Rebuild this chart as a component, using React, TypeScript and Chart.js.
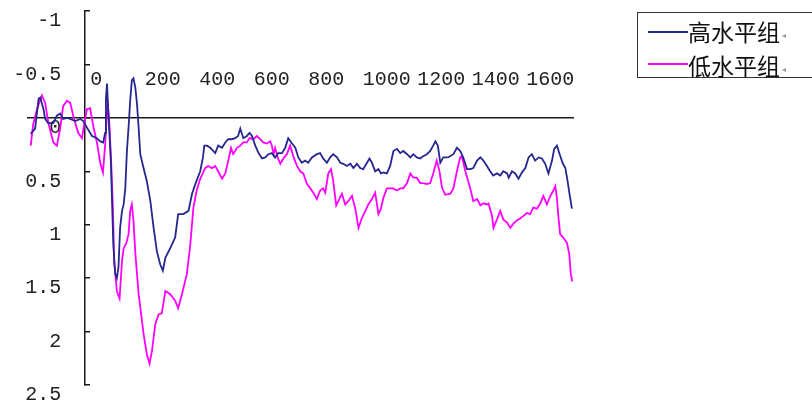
import React, { useEffect, useRef } from "react";
import { Chart, registerables } from "chart.js";

Chart.register(...registerables);

const seriesNames = ["高水平组", "低水平组"];

const highTimes = [
  -200, -184, -171, -165, -153, -147, -136, -117, -104, -92,
  -81, -67, -55, -37, -18, -7, 6, 25, 43, 55,
  66, 73, 76, 80, 84, 94, 103, 110, 116, 122,
  128, 135, 141, 147, 153, 159, 165, 171, 177, 184,
  190, 196, 202, 214, 226, 239, 251, 263, 275, 285,
  294, 312, 330, 341, 360, 379, 392, 404, 422, 432,
  437, 447, 459, 470, 477, 488, 502, 514, 525, 538,
  550, 561, 569, 580, 593, 603, 612, 624, 636, 649,
  661, 672, 685, 697, 708, 722, 734, 745, 759, 771,
  782, 795, 807, 818, 832, 850, 862, 873, 887, 899,
  910, 924, 936, 947, 960, 973, 984, 997, 1009, 1020,
  1034, 1043, 1052, 1064, 1076, 1085, 1094, 1107, 1119, 1131,
  1144, 1156, 1167, 1181, 1193, 1204, 1217, 1229, 1240, 1254,
  1266, 1277, 1285, 1294, 1303, 1314, 1332, 1351, 1364, 1376,
  1387, 1401, 1413, 1424, 1438, 1450, 1461, 1474, 1486, 1497,
  1511, 1523, 1534, 1548, 1554, 1566, 1578, 1590, 1603, 1615,
  1627, 1639, 1651, 1664, 1676, 1688, 1700, 1713, 1721, 1731,
  1741, 1753, 1762, 1770, 1777, 1786,
];

const highValues = [
  0.15, 0.1, -0.18, -0.19, -0.08, 0.01, 0.05, 0.05, -0.02, -0.04,
  0.01, 0.0, 0.01, 0.03, 0.01, 0.03, 0.09, 0.17, 0.19, 0.22,
  0.23, 0.14, -0.18, -0.32, -0.09, 0.4, 1.18, 1.46, 1.5, 1.4,
  1.03, 0.87, 0.81, 0.66, 0.31, 0.09, -0.16, -0.35, -0.37, -0.28,
  -0.13, 0.09, 0.34, 0.47, 0.59, 0.78, 1.03, 1.25, 1.37, 1.43,
  1.31, 1.22, 1.12, 0.9, 0.9, 0.87, 0.71, 0.62, 0.5, 0.37,
  0.26, 0.26, 0.28, 0.31, 0.33, 0.26, 0.28, 0.23, 0.2, 0.2,
  0.19, 0.17, 0.1, 0.19, 0.17, 0.14, 0.17, 0.26, 0.33, 0.38,
  0.37, 0.34, 0.33, 0.37, 0.33, 0.33, 0.28, 0.19, 0.24, 0.28,
  0.37, 0.42, 0.4, 0.42, 0.37, 0.34, 0.33, 0.38, 0.42, 0.37,
  0.34, 0.37, 0.42, 0.43, 0.45, 0.43, 0.47, 0.43, 0.47, 0.48,
  0.42, 0.38, 0.42, 0.5, 0.48, 0.52, 0.51, 0.52, 0.45, 0.31,
  0.29, 0.33, 0.31, 0.34, 0.37, 0.34, 0.37, 0.38, 0.36, 0.34,
  0.31, 0.26, 0.22, 0.26, 0.42, 0.37, 0.37, 0.34, 0.28, 0.31,
  0.37, 0.48, 0.48, 0.47, 0.4, 0.37, 0.4, 0.45, 0.5, 0.54,
  0.52, 0.54, 0.5, 0.52, 0.56, 0.5, 0.52, 0.57, 0.51, 0.47,
  0.37, 0.34, 0.4, 0.37, 0.38, 0.43, 0.52, 0.4, 0.29, 0.26,
  0.34, 0.43, 0.47, 0.59, 0.71, 0.85,
];

const lowTimes = [
  -200, -191, -177, -159, -147, -135, -117, -104, -92, -81,
  -67, -55, -44, -26, -12, -3, 6, 18, 29, 43,
  55, 65, 73, 80, 82, 88, 95, 102, 106, 116,
  126, 135, 141, 150, 159, 165, 171, 177, 184, 196,
  214, 226, 236, 245, 257, 269, 281, 294, 312, 330,
  341, 355, 373, 385, 397, 410, 422, 440, 451, 465,
  477, 488, 502, 514, 525, 535, 543, 557, 569, 580,
  593, 603, 617, 630, 642, 653, 667, 679, 685, 691,
  697, 706, 716, 727, 740, 752, 765, 777, 789, 800,
  814, 826, 837, 850, 862, 873, 881, 892, 902, 910,
  921, 929, 942, 954, 965, 979, 991, 1003, 1015, 1028,
  1039, 1052, 1064, 1076, 1085, 1094, 1107, 1119, 1130, 1144,
  1156, 1167, 1181, 1193, 1204, 1217, 1229, 1240, 1254, 1266,
  1277, 1290, 1300, 1309, 1321, 1340, 1351, 1364, 1376, 1382,
  1395, 1413, 1424, 1438, 1450, 1461, 1474, 1480, 1493, 1498,
  1511, 1523, 1534, 1548, 1560, 1571, 1584, 1597, 1607, 1621,
  1633, 1644, 1658, 1670, 1681, 1694, 1707, 1718, 1725, 1731,
  1737, 1743, 1754, 1768, 1776, 1782, 1787,
];

const lowValues = [
  0.26, 0.06, -0.08, -0.21, -0.14, 0.05, 0.23, 0.26, 0.1, -0.11,
  -0.16, -0.14, -0.02, 0.14, 0.19, 0.05, -0.08, -0.09, 0.07, 0.23,
  0.42, 0.51, 0.26, -0.05, -0.16, 0.03, 0.4, 0.87, 1.34, 1.62,
  1.69, 1.34, 1.22, 1.18, 1.09, 0.87, 0.81, 0.96, 1.27, 1.65,
  2.02, 2.21, 2.3, 2.18, 1.93, 1.84, 1.83, 1.62, 1.65, 1.71,
  1.78, 1.65, 1.46, 1.2, 0.84, 0.67, 0.57, 0.47, 0.45, 0.47,
  0.45, 0.5, 0.57, 0.52, 0.4, 0.28, 0.34, 0.28, 0.26, 0.23,
  0.23, 0.19, 0.2, 0.17, 0.2, 0.23, 0.24, 0.22, 0.26, 0.34,
  0.28, 0.37, 0.43, 0.38, 0.34, 0.26, 0.37, 0.45, 0.5, 0.52,
  0.62, 0.66, 0.7, 0.76, 0.68, 0.66, 0.7, 0.52, 0.48, 0.59,
  0.82, 0.78, 0.71, 0.81, 0.78, 0.73, 0.85, 1.03, 0.94, 0.87,
  0.81, 0.76, 0.7, 0.9, 0.85, 0.75, 0.66, 0.66, 0.66, 0.68,
  0.66, 0.66, 0.61, 0.52, 0.56, 0.56, 0.61, 0.61, 0.62, 0.61,
  0.52, 0.4, 0.5, 0.65, 0.72, 0.71, 0.66, 0.5, 0.37, 0.36,
  0.5, 0.66, 0.78, 0.76, 0.82, 0.8, 0.81, 0.8, 0.92, 1.03,
  0.95, 0.87, 0.95, 0.98, 1.03, 0.99, 0.96, 0.94, 0.92, 0.89,
  0.9, 0.84, 0.85, 0.8, 0.73, 0.81, 0.73, 0.68, 0.64, 0.75,
  0.94, 1.09, 1.12, 1.17, 1.27, 1.46, 1.53,
];

const xTickValues = [0, 200, 400, 600, 800, 1000, 1200, 1400, 1600];
const yTickValues = [-1, -0.5, 0, 0.5, 1, 1.5, 2, 2.5];

const HIGH_COLOR = "#26268f";
const LOW_COLOR = "#ff00ff";
const AXIS_COLOR = "#1a1a1a";
const TICK_FONT = { family: "'Liberation Mono', 'DejaVu Sans Mono', monospace", size: 20 };

function pairs(xs: number[], ys: number[]) {
  const n = Math.min(xs.length, ys.length);
  const out: { x: number; y: number }[] = [];
  for (let i = 0; i < n; i++) out.push({ x: xs[i], y: ys[i] });
  return out;
}

function zeroPadding(s: any) {
  s.paddingLeft = 0;
  s.paddingRight = 0;
  s.paddingTop = 0;
  s.paddingBottom = 0;
}

export default function App() {
  const ref = useRef<HTMLCanvasElement>(null);

  useEffect(() => {
    if (!ref.current) return;
    const chart = new Chart(ref.current, {
      type: "line",
      data: {
        datasets: [
          {
            label: seriesNames[0],
            data: pairs(highTimes, highValues),
            borderColor: HIGH_COLOR,
            backgroundColor: HIGH_COLOR,
            borderWidth: 1.8,
            pointRadius: 0,
            tension: 0,
            fill: false,
          },
          {
            label: seriesNames[1],
            data: pairs(lowTimes, lowValues),
            borderColor: LOW_COLOR,
            backgroundColor: LOW_COLOR,
            borderWidth: 1.8,
            pointRadius: 0,
            tension: 0,
            fill: false,
          },
        ],
      },
      options: {
        responsive: false,
        animation: false,
        layout: { padding: { left: 28, right: 239, top: 11, bottom: 21 } },
        plugins: { legend: { display: false }, tooltip: { enabled: false } },
        scales: {
          x: {
            type: "linear",
            min: -210,
            max: 1790,
            position: { y: 0 } as any,
            grid: { display: false, drawTicks: false },
            border: { display: true, color: AXIS_COLOR, width: 1.5 },
            afterBuildTicks: (s: any) => {
              s.ticks = xTickValues.map((v) => ({ value: v }));
            },
            afterFit: zeroPadding,
            ticks: {
              autoSkip: false,
              maxRotation: 0,
              minRotation: 0,
              align: "start",
              labelOffset: 5,
              padding: -50,
              color: "#222",
              font: TICK_FONT,
              callback: (v: any) => String(v),
            },
          },
          y: {
            type: "linear",
            reverse: true,
            min: -1,
            max: 2.5,
            position: { x: 0 } as any,
            grid: {
              display: true,
              drawOnChartArea: false,
              drawTicks: true,
              tickLength: -6,
              color: AXIS_COLOR,
              lineWidth: 1.5,
            },
            border: { display: true, color: AXIS_COLOR, width: 1.5 },
            afterBuildTicks: (s: any) => {
              s.ticks = yTickValues.map((v) => ({ value: v }));
            },
            afterFit: zeroPadding,
            ticks: {
              autoSkip: false,
              labelOffset: 10,
              padding: 0,
              color: "#222",
              font: TICK_FONT,
              // two trailing spaces keep the labels clear of the axis line, as in the original
              callback: (v: any) => String(v) + "  ",
            },
          },
        },
      },
    });
    return () => chart.destroy();
  }, []);

  const legendFont = "'Noto Sans CJK SC', sans-serif";

  return (
    <div style={{ position: "absolute", left: 0, top: 0, width: 812, height: 406, overflow: "hidden", background: "#fff" }}>
      <canvas ref={ref} width={812} height={406} style={{ position: "absolute", left: 0, top: 0 }} />
      <div
        style={{
          position: "absolute",
          left: 637,
          top: 12,
          width: 220,
          height: 66,
          boxSizing: "border-box",
          border: "1.5px solid #333",
          background: "#fff",
        }}
      />
      <div style={{ position: "absolute", left: 648, top: 31, width: 40, height: 1.5, background: HIGH_COLOR }} />
      <div style={{ position: "absolute", left: 648, top: 63, width: 40, height: 1.5, background: LOW_COLOR }} />
      <div style={{ position: "absolute", left: 688, top: 18, fontFamily: legendFont, fontSize: 23, lineHeight: "26px", color: "#111", whiteSpace: "nowrap" }}>
        {seriesNames[0]}
        <span style={{ fontSize: 8, color: "#999", marginLeft: 2, verticalAlign: "middle" }}>◂</span>
      </div>
      <div style={{ position: "absolute", left: 688, top: 52, fontFamily: legendFont, fontSize: 23, lineHeight: "26px", color: "#111", whiteSpace: "nowrap" }}>
        {seriesNames[1]}
        <span style={{ fontSize: 8, color: "#999", marginLeft: 2, verticalAlign: "middle" }}>◂</span>
      </div>
    </div>
  );
}
